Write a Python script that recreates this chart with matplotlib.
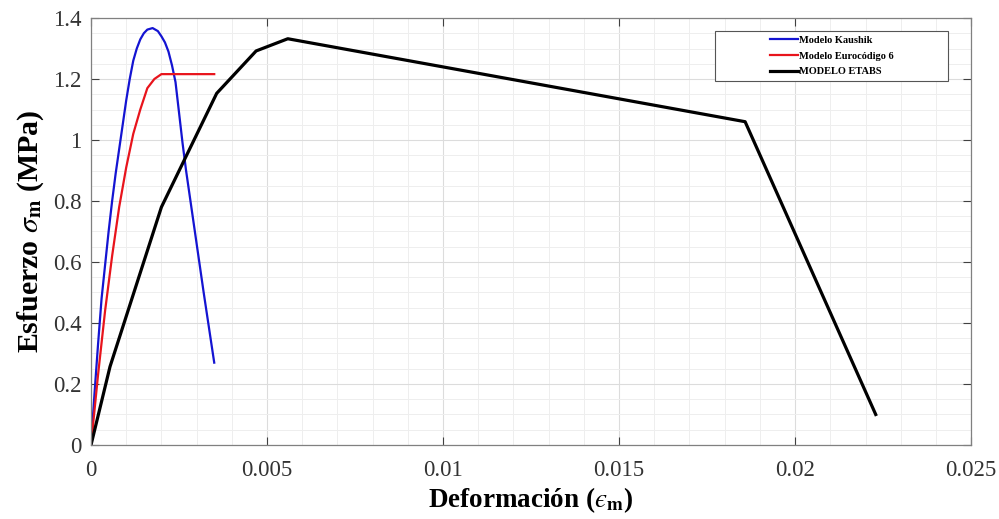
import numpy as np
import matplotlib
matplotlib.use("Agg")
import matplotlib.pyplot as plt
from matplotlib.ticker import MultipleLocator, FuncFormatter
from matplotlib.patches import Rectangle

# Modelo Kaushik
kaushik_x = [0, 0.0001, 0.0002, 0.0003, 0.0004, 0.0005, 0.0006, 0.0007, 0.0008,
             0.0009, 0.001, 0.0011, 0.0012, 0.0013, 0.0014, 0.0015, 0.0016,
             0.00175, 0.0019, 0.002, 0.0021, 0.0022, 0.0023, 0.0024, 0.0025,
             0.0026, 0.0027, 0.0028, 0.003, 0.0032, 0.0035]
kaushik_y = [0, 0.17, 0.33, 0.48, 0.59, 0.70, 0.80, 0.89, 0.97,
             1.05, 1.13, 1.20, 1.26, 1.30, 1.33, 1.35, 1.362,
             1.367, 1.357, 1.34, 1.32, 1.29, 1.245, 1.19, 1.09,
             0.99, 0.90, 0.82, 0.66, 0.50, 0.27]

# Modelo Eurocodigo 6
ec6_x = [0, 0.0002, 0.0004, 0.0006, 0.0008, 0.001, 0.0012, 0.0014, 0.0016,
         0.0018, 0.002, 0.0035]
ec6_y = [0, 0.23, 0.44, 0.62, 0.78, 0.91, 1.02, 1.10, 1.17, 1.20, 1.216, 1.216]

# MODELO ETABS
etabs_x = [0, 0.00054, 0.002, 0.00357, 0.00469, 0.00559, 0.01858, 0.02229]
etabs_y = [0, 0.257, 0.78, 1.153, 1.292, 1.332, 1.06, 0.10]

labels = ["Modelo Kaushik", "Modelo Eurocódigo 6", "MODELO ETABS"]

plt.rcParams["font.family"] = ["Liberation Serif", "DejaVu Serif"]
plt.rcParams["mathtext.fontset"] = "stix"

fig = plt.figure(figsize=(9.99, 5.19), dpi=100)
ax = fig.add_axes([0.0911, 0.1426, 0.881, 0.8227])

ax.plot(kaushik_x, kaushik_y, color="#1414d2", lw=1.6, label=labels[0])
ax.plot(ec6_x, ec6_y, color="#e8141c", lw=1.6, label=labels[1])
ax.plot(etabs_x, etabs_y, color="black", lw=2.3, label=labels[2])

ax.set_xlim(0, 0.025)
ax.set_ylim(0, 1.4)
ax.xaxis.set_major_locator(MultipleLocator(0.005))
ax.xaxis.set_minor_locator(MultipleLocator(0.001))
ax.yaxis.set_major_locator(MultipleLocator(0.2))
ax.yaxis.set_minor_locator(MultipleLocator(0.05))
fmt = FuncFormatter(lambda v, p: "%g" % round(v, 6))
ax.xaxis.set_major_formatter(fmt)
ax.yaxis.set_major_formatter(fmt)

ax.grid(which="major", color="#dcdcdc", lw=0.8)
ax.grid(which="minor", color="#eeeeee", lw=0.7)
ax.set_axisbelow(True)

ax.tick_params(which="major", direction="in", length=6, width=0.8,
               color="#404040", top=True, right=True, labelsize=16.5,
               labelcolor="#333333", pad=7)
ax.tick_params(axis="x", which="major", pad=11)
ax.tick_params(which="minor", length=0)
for s in ax.spines.values():
    s.set_color("#808080")
    s.set_linewidth(0.9)

ax.set_xlabel("Deformación ($\u03f5_{\\mathbf{m}}$)", fontsize=19.5,
              fontweight="bold", labelpad=3)
ax.set_ylabel(r"Esfuerzo $\sigma_{\mathbf{m}}$ (MPa)", fontsize=21.5,
              fontweight="bold", labelpad=5)

# legend with wide MATLAB-style box
ax.add_patch(Rectangle((0.709, 0.852), 0.265, 0.118, transform=ax.transAxes,
                       facecolor="white", edgecolor="#555555", lw=0.8, zorder=4))
leg = ax.legend(loc="center", bbox_to_anchor=(0.842, 0.911), frameon=False,
                prop={"size": 7.5, "weight": "bold"}, handlelength=2.7,
                handletextpad=0.1, labelspacing=0.6)
leg.set_zorder(5)

fig.savefig("out.png", dpi=100)
